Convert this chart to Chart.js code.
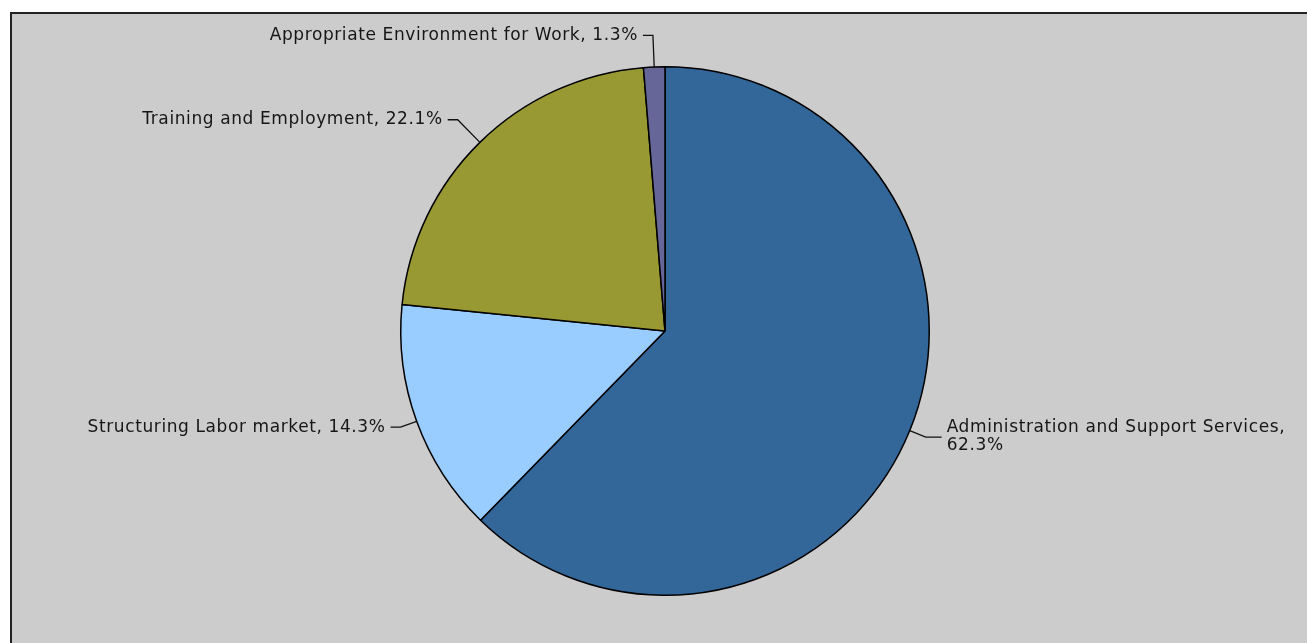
<!DOCTYPE html>
<html>
<head>
<meta charset="utf-8">
<script src="https://cdn.jsdelivr.net/npm/chart.js@4"></script>
<style>
  body { margin: 0; background: #ffffff; }
  #wrap { width: 1307px; height: 643px; position: relative; }
</style>
</head>
<body>
<div id="wrap"><canvas id="pieCanvas"></canvas></div>
<script>
// Budget shares (percent), clockwise from 12 o'clock
const categories = [
    'Administration and Support Services',
    'Structuring Labor market',
    'Training and Employment',
    'Appropriate Environment for Work'
];
const shares = [62.3, 14.3, 22.1, 1.3];
const sliceColors = ['#336699', '#99ccff', '#999933', '#666699'];

const labelFont = '17px "DejaVu Sans", sans-serif';

// Gray panel with dark frame behind the pie
const panelPlugin = {
    id: 'panel',
    beforeDraw(chart) {
        const ctx = chart.ctx;
        ctx.save();
        ctx.fillStyle = '#ffffff';
        ctx.fillRect(0, 0, chart.width, chart.height);
        ctx.fillStyle = '#cccccc';
        ctx.fillRect(11, 13, chart.width, chart.height);
        ctx.strokeStyle = '#222222';
        ctx.lineWidth = 2;
        ctx.strokeRect(11, 13, chart.width + 10, chart.height + 10);
        ctx.restore();
    }
};

// Split a label into lines that fit a width
function wrapText(ctx, text, maxWidth) {
    const words = text.split(' ');
    const lines = [];
    let line = '';
    words.forEach(w => {
        const test = line ? line + ' ' + w : w;
        if (ctx.measureText(test).width > maxWidth && line) {
            lines.push(line);
            line = w;
        } else {
            line = test;
        }
    });
    if (line) lines.push(line);
    return lines;
}

// Outside labels with leader lines
const labelPlugin = {
    id: 'pieLabels',
    afterDatasetsDraw(chart) {
        const ctx = chart.ctx;
        const meta = chart.getDatasetMeta(0);
        ctx.save();
        ctx.font = labelFont;
        ctx.letterSpacing = '0.6px';
        ctx.strokeStyle = '#111111';
        ctx.lineWidth = 1.3;
        ctx.fillStyle = '#161616';
        ctx.textBaseline = 'middle';

        meta.data.forEach((arc, i) => {
            const mid = (arc.startAngle + arc.endAngle) / 2;
            const r = arc.outerRadius;
            const cos = Math.cos(mid), sin = Math.sin(mid);
            const edgeX = arc.x + r * cos;
            const edgeY = arc.y + r * sin;
            const linkR = r * (sin < 0 ? 1.12 : 1.065);
            const px = arc.x + linkR * cos;
            const py = arc.y + linkR * sin;
            const right = cos > 0;
            const stub = right ? 16 : 10;
            const endX = right ? px + stub : px - stub;

            ctx.beginPath();
            ctx.moveTo(edgeX, edgeY);
            ctx.lineTo(px, py);
            ctx.lineTo(endX, py);
            ctx.stroke();

            const text = categories[i] + ', ' + shares[i].toFixed(1) + '%';
            const gap = 5;
            const textX = right ? endX + gap : endX - gap;
            ctx.textAlign = right ? 'left' : 'right';
            const maxW = right ? chart.width - textX - 8 : textX - 20;
            const lines = wrapText(ctx, text, maxW);
            const lh = 18;
            const top = py - (lines.length - 1) * lh / 2;
            lines.forEach((ln, k) => ctx.fillText(ln, textX, top + k * lh));
        });
        ctx.restore();
    }
};

const ctx = document.getElementById('pieCanvas').getContext('2d');
const pieChart = new Chart(ctx, {
    type: 'pie',
    data: {
        labels: categories,
        datasets: [{
            data: shares,
            backgroundColor: sliceColors,
            borderColor: '#000000',
            borderWidth: 1.5
        }]
    },
    options: {
        responsive: true,
        maintainAspectRatio: false,
        animation: false,
        layout: { padding: { top: 66, bottom: 47, left: 200, right: 177 } },
        plugins: {
            legend: { display: false },
            tooltip: { enabled: false }
        }
    },
    plugins: [panelPlugin, labelPlugin]
});
</script>
</body>
</html>
